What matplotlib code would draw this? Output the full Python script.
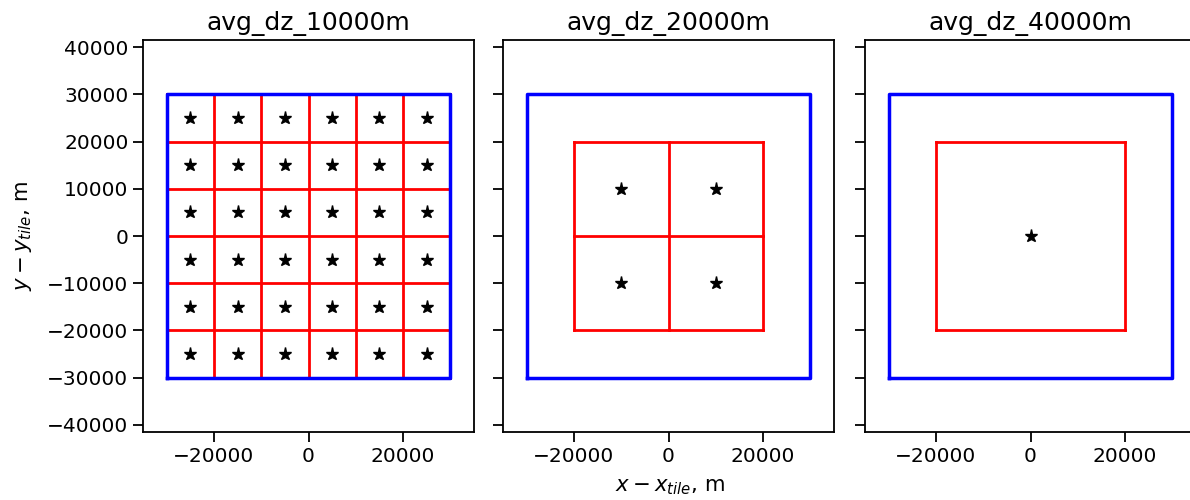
import numpy as np
import matplotlib.pyplot as plt

# tile outline and averaging cells (metres)
tile_half = 30000
titles = ["avg_dz_10000m", "avg_dz_20000m", "avg_dz_40000m"]
cell_edges = [
    [-30000, -20000, -10000, 0, 10000, 20000, 30000],
    [-20000, 0, 20000],
    [-20000, 20000],
]
cell_centres = [
    [-25000, -15000, -5000, 5000, 15000, 25000],
    [-10000, 10000],
    [0],
]
yticks = [-40000, -30000, -20000, -10000, 0, 10000, 20000, 30000, 40000]
xticks = [-20000, 0, 20000]

plt.rcParams["font.size"] = 14.5

fig = plt.figure(figsize=(11.9, 5), dpi=100)
W, H = 1190, 500
lefts = [143, 503, 865]
axes = []
for i in range(3):
    ax = fig.add_axes([lefts[i] / W, (H - 432) / H, 331 / W, 392 / H])
    axes.append(ax)

for i, ax in enumerate(axes):
    e = cell_edges[i]
    lo, hi = e[0], e[-1]
    for v in e:
        ax.plot([v, v], [lo, hi], color="red", lw=2)
        ax.plot([lo, hi], [v, v], color="red", lw=2)
    xs, ys = np.meshgrid(cell_centres[i], cell_centres[i])
    ax.plot(xs.ravel(), ys.ravel(), "*", color="black", ms=9.5)
    t = tile_half
    ax.plot([-t, t, t, -t, -t], [-t, -t, t, t, -t], color="blue", lw=2.5)
    ax.set_xlim(-35000, 35000)
    ax.set_ylim(-41500, 41500)
    ax.set_xticks(xticks)
    ax.set_yticks(yticks)
    ax.set_title(titles[i], fontsize=18, pad=7)
    ax.tick_params(length=7, width=1.3)
    for s in ax.spines.values():
        s.set_linewidth(1.3)
    if i > 0:
        ax.set_yticklabels([])

fig.text(24 / W, 1 - 236 / H, "$y - y_{tile}$, m", ha="center", va="center",
         rotation=90, fontsize=15.3)
fig.text(670 / W, 1 - 487 / H, "$x - x_{tile}$, m", ha="center", va="center",
         fontsize=15.3)

fig.savefig("out.png", dpi=100)
